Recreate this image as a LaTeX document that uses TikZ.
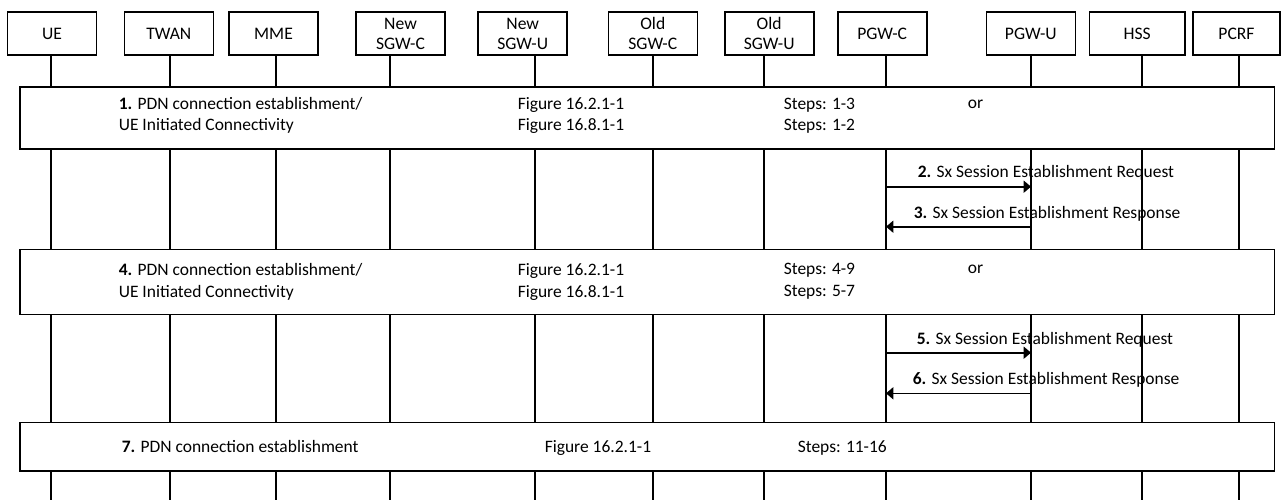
\documentclass[tikz,border=0pt]{standalone}
\usepackage{fontspec}
\setmainfont{Carlito}
\usetikzlibrary{arrows.meta}
\begin{document}
\begin{tikzpicture}[x=0.75pt, y=-0.75pt, line width=1.2pt,
  every node/.style={font=\fontsize{13.1pt}{15pt}\selectfont, inner sep=0pt},
  head/.style={draw, fill=white, minimum width=66.75pt, minimum height=32.25pt,
    align=center, font=\fontsize{13.2pt}{15pt}\selectfont},
  group/.style={draw, fill=white, minimum width=940.9pt},
  msg/.style={-{Triangle[length=5.5pt,width=9pt]}},
  txt/.style={anchor=base west}]

\useasboundingbox (0,0) rectangle (1282,500);

% lifeline positions (bottom ends)
\coordinate (ue-end)    at (51,500);
\coordinate (twan-end)  at (170,500);
\coordinate (mme-end)   at (276,500);
\coordinate (nsgwc-end) at (390,500);
\coordinate (nsgwu-end) at (535,500);
\coordinate (osgwc-end) at (653,500);
\coordinate (osgwu-end) at (764,500);
\coordinate (pgwc-end)  at (886,500);
\coordinate (pgwu-end)  at (1031,500);
\coordinate (hss-end)   at (1142,500);
\coordinate (pcrf-end)  at (1239,500);

% participants
\node[head] (ue)    at (52,33.5)    {\raisebox{-2.5pt}{UE}};
\node[head] (twan)  at (168.8,33.5) {TWAN};
\node[head] (mme)   at (273.5,33.5) {\raisebox{-3pt}{MME}};
\node[head] (nsgwc) at (400.5,33.5) {New\\SGW-C};
\node[head] (nsgwu) at (522.7,33.5) {New\\SGW-U};
\node[head] (osgwc) at (652.8,33.5) {Old\\SGW-C};
\node[head] (osgwu) at (769.2,33.5) {Old\\SGW-U};
\node[head] (pgwc)  at (882.2,33.5) {\raisebox{-1pt}{PGW-C}};
\node[head] (pgwu)  at (1030.8,33.5) {PGW-U};
\node[head, minimum width=71.8pt]  (hss)  at (1137.2,33.5) {HSS};
\node[head, minimum width=65.25pt] (pcrf) at (1236.5,33.5) {\raisebox{-2.5pt}{PCRF}};

% lifelines
\foreach \p in {ue,twan,mme,nsgwc,nsgwu,osgwc,osgwu,pgwc,pgwu,hss,pcrf}
  \draw (\p-end |- \p.south) -- (\p-end);

% procedure boxes spanning all lifelines
\node[group, minimum height=46.3pt]  (g1) at (647.25,118.15) {};
\node[group, minimum height=48.75pt] (g2) at (647.25,281.8) {};
\node[group, minimum height=36.3pt]  (g3) at (647.25,446.5) {};

% step 1
\node[txt] (g1a) at (118,109) {\textbf{1.} PDN connection establishment/};
\node[txt] (g1b) at (118,130) {UE Initiated Connectivity};
\node[txt] (g1c) at (517,109) {Figure 16.2.1-1};
\node[txt] (g1d) at (517,130) {Figure 16.8.1-1};
\node[txt] (g1e) at (783,109) {Steps: 1-3};
\node[txt] (g1f) at (783,130) {Steps: 1-2};
\node[txt] (g1g) at (967,108) {or};

% step 4
\node[txt] (g2a) at (118,275) {\textbf{4.} PDN connection establishment/};
\node[txt] (g2b) at (118,297) {UE Initiated Connectivity};
\node[txt] (g2c) at (517,275) {Figure 16.2.1-1};
\node[txt] (g2d) at (517,297) {Figure 16.8.1-1};
\node[txt] (g2e) at (783,274) {Steps: 4-9};
\node[txt] (g2f) at (783,296) {Steps: 5-7};
\node[txt] (g2g) at (967,273) {or};

% step 7
\node[txt] (g3a) at (121,452) {\textbf{7.} PDN connection establishment};
\node[txt] (g3b) at (544,452) {Figure 16.2.1-1};
\node[txt] (g3c) at (797,452) {Steps: 11-16};

% message levels
\coordinate (y2) at (0,186.7);
\coordinate (y3) at (0,226.7);
\coordinate (y5) at (0,352.7);
\coordinate (y6) at (0,393.3);

% Sx messages between PGW-C and PGW-U
\draw[msg] (pgwc-end |- y2) -- (pgwu-end |- y2);
\draw[msg] (pgwu-end |- y3) -- (pgwc-end |- y3);
\draw[msg] (pgwc-end |- y5) -- (pgwu-end |- y5);
\draw[msg] (pgwu-end |- y6) -- (pgwc-end |- y6);

\node[txt] (m2) at (917,177.5) {\textbf{2.} Sx Session Establishment Request};
\node[txt] (m3) at (913,218)   {\textbf{3.} Sx Session Establishment Response};
\node[txt] (m5) at (916,344)   {\textbf{5.} Sx Session Establishment Request};
\node[txt] (m6) at (912,384)   {\textbf{6.} Sx Session Establishment Response};
\end{tikzpicture}
\end{document}
